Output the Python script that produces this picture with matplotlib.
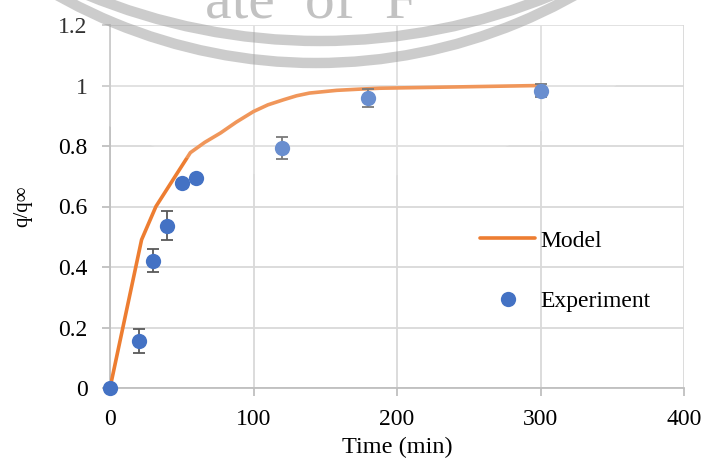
import matplotlib
matplotlib.use("Agg")
import matplotlib.pyplot as plt
from matplotlib.patches import Circle, Arc

# experiment data
t_exp = [0, 20, 30, 40, 50, 60, 120, 180, 300]
q_exp = [0, 0.155, 0.421, 0.536, 0.677, 0.695, 0.793, 0.959, 0.983]
q_err = [0, 0.04, 0.037, 0.048, 0, 0, 0.037, 0.03, 0.022]

# model curve
t_model = [0, 22, 32, 46, 56, 66, 77, 88, 100, 110, 121, 130, 139, 158, 174, 188, 300]
q_model = [0, 0.49, 0.60, 0.704, 0.778, 0.812, 0.843, 0.879, 0.914, 0.936,
           0.953, 0.966, 0.975, 0.984, 0.988, 0.991, 1.0]

xticks = [0, 100, 200, 300, 400]
yticks = [0, 0.2, 0.4, 0.6, 0.8, 1.0, 1.2]
ytick_labels = ["0", "0.2", "0.4", "0.6", "0.8", "1", "1.2"]

W, H = 704, 463
fig = plt.figure(figsize=(W / 100, H / 100), dpi=100)
ax = fig.add_axes([110 / W, 1 - 388 / H, 574 / W, 363 / H])

serif = "Liberation Serif"
grid_c = "#D9D9D9"

ax.plot(t_model, q_model, color="#ED7D31", lw=2.6, label="Model", zorder=3,
        solid_joinstyle="round", solid_capstyle="round")
ax.errorbar(t_exp, q_exp, yerr=q_err, fmt="none", ecolor="#595959",
            elinewidth=1.3, capsize=4.5, capthick=1.3, zorder=4)
ax.plot(t_exp, q_exp, "o", color="#4472C4", ms=11, mec="none",
        label="Experiment", zorder=5, clip_on=False)

ax.set_xlim(0, 400)
ax.set_ylim(0, 1.2)
ax.set_xticks(xticks)
ax.set_yticks(yticks)
ax.set_yticklabels(ytick_labels)
ax.grid(True, color=grid_c, lw=1.3)
ax.set_axisbelow(True)
for s in ["top", "right"]:
    ax.spines[s].set_visible(False)
for s in ["left", "bottom"]:
    ax.spines[s].set_color("#BFBFBF")
    ax.spines[s].set_linewidth(1.3)
ax.tick_params(length=6, width=1.3, color="#BFBFBF", labelsize=17)
for lab in ax.get_xticklabels() + ax.get_yticklabels():
    lab.set_fontfamily(serif)
ax.tick_params(axis="x", pad=9)
ax.tick_params(axis="y", pad=10)

ax.set_xlabel("Time (min)", fontfamily=serif, fontsize=17.5, labelpad=5)
ax.set_ylabel("q/q\u221e", fontfamily=serif, fontsize=15, labelpad=19)

fig.legend(loc="upper left", bbox_to_anchor=(480 / W, 1 - 230 / H),
           frameon=False, prop={"family": serif, "size": 17},
           handlelength=2.33, handletextpad=0.21, labelspacing=1.65,
           borderpad=0, borderaxespad=0)

# faint seal watermark on top of everything
ov = fig.add_axes([0, 0, 1, 1], zorder=10)
ov.set_xlim(0, W)
ov.set_ylim(H, 0)
ov.axis("off")
ov.patch.set_alpha(0)
ov.add_patch(Circle((330, -300), 480, color="white", alpha=0.2, lw=0))
ov.add_patch(Arc((316, -465), 2 * 528, 2 * 528, theta1=0, theta2=360,
                 color="#9A9A9A", lw=7.5, alpha=0.5))
ov.add_patch(Arc((320, -570), 2 * 611, 2 * 611, theta1=0, theta2=360,
                 color="#9A9A9A", lw=7.5, alpha=0.5))
ov.text(205, 17, "ate  of  F", fontfamily=serif, fontsize=43, color="#B8B8B8",
        ha="left", va="baseline", alpha=0.85)

fig.savefig("out.png", dpi=100)
